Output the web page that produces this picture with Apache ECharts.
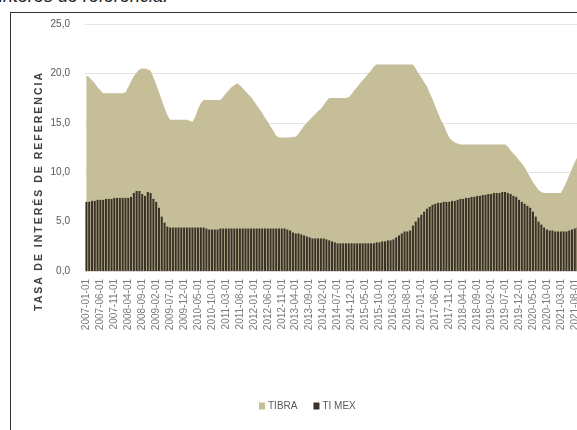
<!DOCTYPE html>
<html>
<head>
<meta charset="utf-8">
<script src="https://cdn.jsdelivr.net/npm/echarts@6/dist/echarts.min.js"></script>
<style>
  html, body { margin:0; padding:0; width:577px; height:430px; overflow:hidden; background:#fff; }
  #top-text { position:absolute; left:-1px; top:-14.5px; font-family:"Liberation Sans", Arial, sans-serif; font-style:italic; font-size:18px; color:#222; white-space:nowrap; }
  #frame { position:absolute; left:10px; top:12px; width:700px; height:500px; border-left:1.5px solid #333; border-top:1.5px solid #333; }
  #chart { position:absolute; left:0; top:0; width:600px; height:430px; }
  #ytitle { position:absolute; left:38px; top:191px; transform:translate(-50%,-50%) rotate(-90deg); font-family:"Liberation Sans", Arial, sans-serif; font-weight:bold; font-size:10.5px; letter-spacing:2px; color:#404040; white-space:nowrap; }
</style>
</head>
<body>
<div id="top-text">interés de referencia.</div>
<div id="frame"></div>
<div id="chart"></div>
<div id="ytitle">TASA DE INTERÉS DE REFERENCIA</div>
<script>
// Monthly categories 2007-01 .. 2021-09
const startYear = 2007, monthCount = 177;
const categories = [];
for (let i = 0; i < monthCount; i++) {
  const y = startYear + Math.floor(i / 12), m = (i % 12) + 1;
  categories.push(y + '-' + (m < 10 ? '0' + m : m) + '-01');
}

const seriesNames = ['TIBRA', 'TI MEX'];

const tibra = [
  // 2007
  19.8, 19.6, 19.3, 19.0, 18.6, 18.3, 18.0, 18.0, 18.0, 18.0, 18.0, 18.0,
  // 2008
  18.0, 18.0, 18.1, 18.6, 19.2, 19.7, 20.1, 20.4, 20.5, 20.5, 20.4, 20.3,
  // 2009
  19.6, 18.9, 18.1, 17.3, 16.5, 15.8, 15.3, 15.3, 15.3, 15.3, 15.3, 15.3,
  // 2010
  15.3, 15.2, 15.1, 15.6, 16.4, 17.0, 17.3, 17.3, 17.3, 17.3, 17.3, 17.3,
  // 2011
  17.3, 17.6, 18.0, 18.3, 18.6, 18.8, 19.0, 18.8, 18.5, 18.2, 17.9, 17.6,
  // 2012
  17.2, 16.8, 16.4, 16.0, 15.5, 15.1, 14.6, 14.2, 13.7, 13.5, 13.5, 13.5,
  // 2013
  13.5, 13.5, 13.6, 13.6, 13.9, 14.3, 14.7, 15.0, 15.3, 15.6, 15.9, 16.2,
  // 2014
  16.4, 16.8, 17.2, 17.5, 17.5, 17.5, 17.5, 17.5, 17.5, 17.5, 17.6, 17.9,
  // 2015
  18.3, 18.6, 19.0, 19.3, 19.6, 20.0, 20.3, 20.7, 20.9, 20.9, 20.9, 20.9,
  // 2016
  20.9, 20.9, 20.9, 20.9, 20.9, 20.9, 20.9, 20.9, 20.9, 20.9, 20.5, 20.0,
  // 2017
  19.6, 19.1, 18.7, 18.0, 17.4, 16.7, 16.0, 15.3, 14.8, 14.1, 13.5, 13.2,
  // 2018
  13.0, 12.9, 12.8, 12.8, 12.8, 12.8, 12.8, 12.8, 12.8, 12.8, 12.8, 12.8,
  // 2019
  12.8, 12.8, 12.8, 12.8, 12.8, 12.8, 12.8, 12.6, 12.2, 11.9, 11.6, 11.2,
  // 2020
  10.9, 10.5, 10.0, 9.5, 9.0, 8.6, 8.2, 8.0, 7.9, 7.9, 7.9, 7.9,
  // 2021
  7.9, 7.9, 7.9, 8.4, 9.0, 9.7, 10.4, 11.0, 11.6
];

const timex = [
  // 2007
  7.0, 7.0, 7.1, 7.1, 7.2, 7.2, 7.2, 7.3, 7.3, 7.3, 7.4, 7.4,
  // 2008
  7.4, 7.4, 7.4, 7.4, 7.5, 7.9, 8.1, 8.1, 7.8, 7.6, 8.0, 7.9,
  // 2009
  7.3, 7.0, 6.4, 5.5, 4.9, 4.5, 4.4, 4.4, 4.4, 4.4, 4.4, 4.4,
  // 2010
  4.4, 4.4, 4.4, 4.4, 4.4, 4.4, 4.4, 4.3, 4.2, 4.2, 4.2, 4.2,
  // 2011
  4.3, 4.3, 4.3, 4.3, 4.3, 4.3, 4.3, 4.3, 4.3, 4.3, 4.3, 4.3,
  // 2012
  4.3, 4.3, 4.3, 4.3, 4.3, 4.3, 4.3, 4.3, 4.3, 4.3, 4.3, 4.3,
  // 2013
  4.2, 4.1, 3.9, 3.8, 3.8, 3.7, 3.6, 3.5, 3.4, 3.3, 3.3, 3.3,
  // 2014
  3.3, 3.3, 3.2, 3.1, 3.0, 2.9, 2.8, 2.8, 2.8, 2.8, 2.8, 2.8,
  // 2015
  2.8, 2.8, 2.8, 2.8, 2.8, 2.8, 2.8, 2.8, 2.9, 2.9, 3.0, 3.0,
  // 2016
  3.1, 3.1, 3.2, 3.4, 3.6, 3.8, 4.0, 4.0, 4.1, 4.6, 5.0, 5.4,
  // 2017
  5.7, 6.0, 6.3, 6.5, 6.7, 6.8, 6.9, 6.9, 7.0, 7.0, 7.0, 7.1,
  // 2018
  7.1, 7.2, 7.3, 7.3, 7.4, 7.4, 7.5, 7.5, 7.6, 7.6, 7.7, 7.7,
  // 2019
  7.8, 7.8, 7.9, 7.9, 7.9, 8.0, 8.0, 7.9, 7.8, 7.6, 7.5, 7.2,
  // 2020
  7.0, 6.8, 6.6, 6.4, 6.0, 5.5, 5.0, 4.7, 4.4, 4.2, 4.1, 4.1,
  // 2021
  4.0, 4.0, 4.0, 4.0, 4.0, 4.1, 4.2, 4.3, 4.4
];

const yTicks = [0, 5, 10, 15, 20, 25];

const chart = echarts.init(document.getElementById('chart'), null, { renderer: 'canvas' });
const narrow = '"Liberation Sans Narrow", "Liberation Sans", Arial, sans-serif';
chart.setOption({
  animation: false,
  backgroundColor: 'transparent',
  grid: { left: 85, right: 21, top: 24, bottom: 159, outerBoundsMode: 'none' },
  legend: {
    left: 254, top: 396,
    itemWidth: 6, itemHeight: 7, itemGap: 16, icon: 'rect',
    textStyle: { fontFamily: narrow, fontSize: 10, color: '#595959', padding: [0, 0, 0, -2] },
    data: seriesNames
  },
  xAxis: {
    type: 'category',
    data: categories,
    boundaryGap: true,
    axisLine: { show: true, lineStyle: { color: '#d9d9d9' } },
    axisTick: { show: false },
    axisLabel: { interval: 4, rotate: 90, fontFamily: narrow, fontSize: 10, color: '#7a7a7a', margin: 8 }
  },
  yAxis: {
    type: 'value',
    min: yTicks[0], max: yTicks[yTicks.length - 1], interval: 5,
    axisLine: { show: false },
    axisTick: { show: false },
    splitLine: { lineStyle: { color: '#e4e4e4', width: 1 } },
    axisLabel: {
      margin: 15, fontFamily: narrow, fontSize: 10, color: '#595959',
      formatter: v => v.toFixed(1).replace('.', ',')
    }
  },
  series: [
    {
      name: seriesNames[0], type: 'line', data: tibra,
      symbol: 'none', lineStyle: { width: 0 },
      areaStyle: { color: '#c6bd99', opacity: 1 },
      itemStyle: { color: '#c6bd99' }, z: 1
    },
    {
      name: seriesNames[1], type: 'bar', data: timex,
      barCategoryGap: '28%',
      itemStyle: { color: '#3a3226' }, z: 2
    }
  ]
});
</script>
</body>
</html>
